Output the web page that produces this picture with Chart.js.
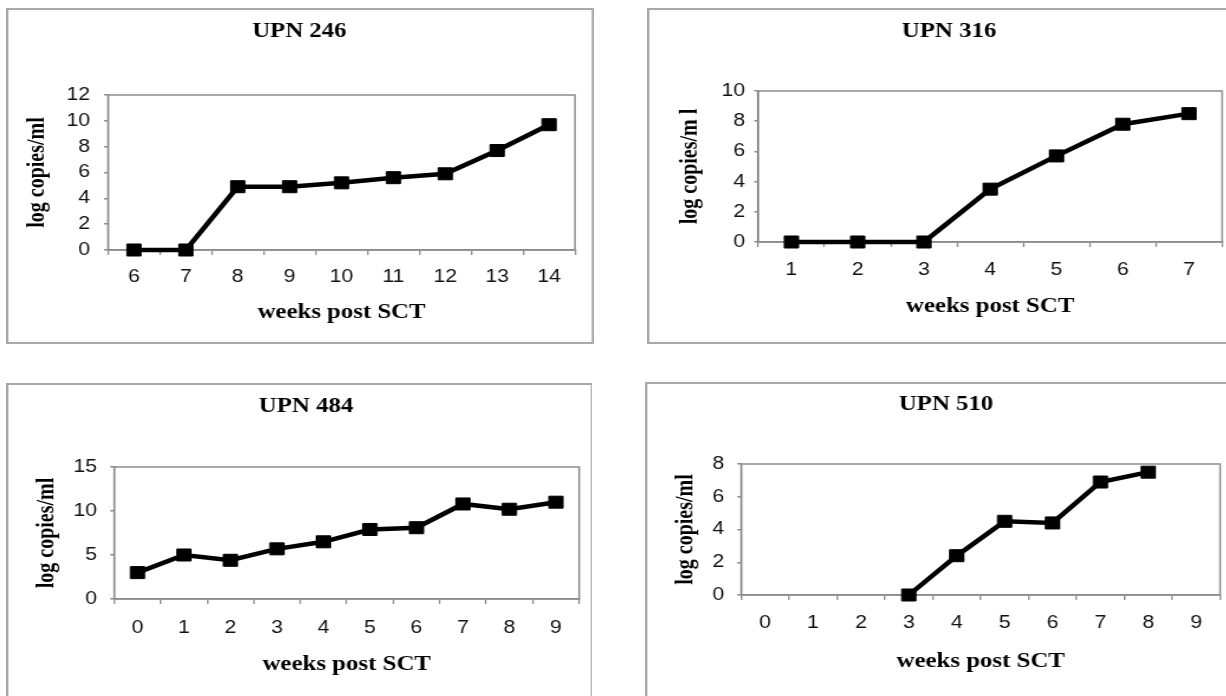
<!DOCTYPE html>
<html>
<head>
<meta charset="utf-8">
<script src="https://cdn.jsdelivr.net/npm/chart.js@4.4.0/dist/chart.umd.min.js"></script>
<style>
  html, body { margin: 0; padding: 0; background: #fff; }
  body { width: 1226px; height: 696px; position: relative; overflow: hidden; }
  .panel { position: absolute; transform-origin: 0 0; }
</style>
</head>
<body>
<div class="panel"><canvas id="c246"></canvas></div>
<div class="panel"><canvas id="c316"></canvas></div>
<div class="panel"><canvas id="c484"></canvas></div>
<div class="panel"><canvas id="c510"></canvas></div>
<script>
// UPN 246
var weeks246 = ['6', '7', '8', '9', '10', '11', '12', '13', '14'];
var copies246 = [0, 0, 4.9, 4.9, 5.2, 5.6, 5.9, 7.7, 9.7];
var yTicks246 = [0, 2, 4, 6, 8, 10, 12];

// UPN 316
var weeks316 = ['1', '2', '3', '4', '5', '6', '7'];
var copies316 = [0, 0, 0, 3.5, 5.7, 7.8, 8.5];
var yTicks316 = [0, 2, 4, 6, 8, 10];

// UPN 484
var weeks484 = ['0', '1', '2', '3', '4', '5', '6', '7', '8', '9'];
var copies484 = [3.0, 5.0, 4.4, 5.7, 6.5, 7.9, 8.1, 10.8, 10.2, 11.0];
var yTicks484 = [0, 5, 10, 15];

// UPN 510 (no values before week 3)
var weeks510 = ['0', '1', '2', '3', '4', '5', '6', '7', '8', '9'];
var copies510 = [null, null, null, 0, 2.4, 4.5, 4.4, 6.9, 7.5, null];
var yTicks510 = [0, 2, 4, 6, 8];

var SANS = '"Liberation Sans", Arial, sans-serif';
var SERIF = '"Liberation Serif", "Times New Roman", serif';
var GRAY = '#8c8c8c';
var STRETCH = 1.18; // the scanned figure is wider than it is tall

// page positions: box = outer frame, plot = plot area edges
var panels = [
  { id: 'c246', title: 'UPN 246', yTitle: 'log copies/ml', labels: weeks246, values: copies246, yTicks: yTicks246,
    box: [6, 8, 588, 336], plot: [108, 95, 575, 250], titleY: 32, xTitleY: 313, yTitleX: 38, yPad: 14, xPad: 11 },
  { id: 'c316', title: 'UPN 316', yTitle: 'log copies/m l', labels: weeks316, values: copies316, yTicks: yTicks316,
    box: [647, 8, 600, 336], plot: [758, 91, 1221, 242], titleY: 32, xTitleY: 307, yTitleX: 690, yPad: 9, xPad: 12 },
  { id: 'c484', title: 'UPN 484', yTitle: 'log copies/ml', labels: weeks484, values: copies484, yTicks: yTicks484,
    box: [6, 383, 586, 330], plot: [114, 467, 578, 599], titleY: 407, xTitleY: 665, yTitleX: 47, yPad: 13, xPad: 13 },
  { id: 'c510', title: 'UPN 510', yTitle: 'log copies/ml', labels: weeks510, values: copies510, yTicks: yTicks510,
    box: [645, 382, 600, 330], plot: [741, 464, 1219, 595], titleY: 405, xTitleY: 662, yTitleX: 686, yPad: 13, xPad: 12 }
];

// outer box and the top/right edges of the plot frame
var framePlugin = {
  id: 'frame',
  beforeDraw: function(chart) {
    var ctx = chart.ctx;
    ctx.save();
    ctx.strokeStyle = '#a8a8a8';
    ctx.lineWidth = 2;
    ctx.strokeRect(1, 1, chart.width - 2, chart.height - 2);
    ctx.restore();
  },
  beforeDatasetsDraw: function(chart) {
    var a = chart.chartArea, ctx = chart.ctx;
    ctx.save();
    ctx.strokeStyle = GRAY;
    ctx.lineWidth = 1.5;
    ctx.strokeRect(a.left, a.top, a.right - a.left, a.bottom - a.top);
    ctx.restore();
  }
};

function makeChart(p) {
  var k = STRETCH;
  var canvas = document.getElementById(p.id);
  var wrap = canvas.parentNode;
  var bx = p.box[0], by = p.box[1];
  var bw = p.box[2] / k, bh = p.box[3];
  wrap.style.left = bx + 'px';
  wrap.style.top = by + 'px';
  wrap.style.width = bw + 'px';
  wrap.style.height = bh + 'px';
  wrap.style.transform = 'scaleX(' + k + ')';

  // canvas coordinates (x squeezed by k, undone by the css stretch)
  var L = (p.plot[0] - bx) / k, R = (p.plot[2] - bx) / k;
  var T = p.plot[1] - by, B = p.plot[3] - by;
  var lhTitle = 21 * 1.2, lhAxis = 20 * 1.2, lhX = 21 * 1.2;
  var tY = p.titleY - by;
  var yW = L - (p.yTitleX - bx) / k + lhAxis / 2;
  var xH = (p.xTitleY - by) - B + lhX / 2;
  var ticks = p.yTicks;

  return new Chart(canvas, {
    type: 'line',
    data: {
      labels: p.labels,
      datasets: [{
        data: p.values,
        borderColor: '#000',
        borderWidth: 4.5,
        pointStyle: 'rect',
        pointRadius: 8.5,
        pointBackgroundColor: '#000',
        pointBorderColor: '#000',
        pointBorderWidth: 1,
        tension: 0,
        spanGaps: false,
        clip: false
      }]
    },
    options: {
      responsive: true,
      maintainAspectRatio: false,
      animation: false,
      layout: { padding: { left: L - yW, right: bw - R, top: 0, bottom: bh - B - xH } },
      plugins: {
        legend: { display: false },
        tooltip: { enabled: false },
        title: {
          display: true,
          text: p.title,
          color: '#000',
          font: { family: SERIF, size: 21, weight: 'bold', lineHeight: 1.2 },
          padding: { top: tY - lhTitle / 2, bottom: T - tY - lhTitle / 2 }
        }
      },
      scales: {
        x: {
          type: 'category',
          offset: true,
          grid: { offset: true, drawOnChartArea: false, tickLength: 5, color: GRAY, lineWidth: 1.3 },
          border: { color: GRAY, width: 1.5 },
          ticks: { padding: p.xPad, color: '#111', maxRotation: 0, autoSkip: false, font: { family: SANS, size: 18 } },
          title: { display: true, text: 'weeks post SCT', color: '#000', padding: 0,
                   font: { family: SERIF, size: 21, weight: 'bold', lineHeight: 1.2 } },
          afterFit: function(s) { s.height = xH; }
        },
        y: {
          min: ticks[0],
          max: ticks[ticks.length - 1],
          grid: { drawOnChartArea: false, tickLength: 4 / k, color: GRAY, lineWidth: 1.5 },
          border: { color: GRAY, width: 1.3 },
          ticks: { stepSize: ticks[1] - ticks[0], padding: p.yPad / k, color: '#111', font: { family: SANS, size: 18 } },
          title: { display: true, text: p.yTitle, color: '#000', padding: 0,
                   font: { family: SERIF, size: 20, weight: 'bold', lineHeight: 1.2 } },
          afterFit: function(s) { s.width = yW; }
        }
      }
    },
    plugins: [framePlugin]
  });
}

panels.forEach(makeChart);
</script>
</body>
</html>
